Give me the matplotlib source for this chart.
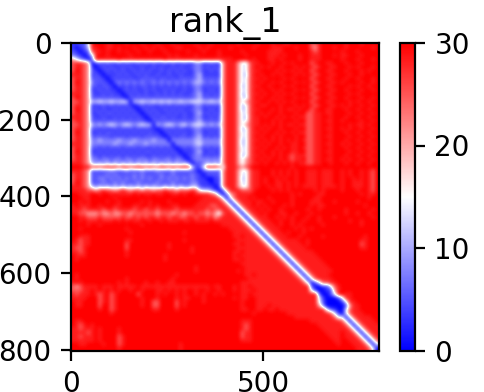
import numpy as np
import matplotlib
matplotlib.use('Agg')
import matplotlib.pyplot as plt

# PAE, one row per 10 residues, one digit per 10 residues
n_res = 802
digit_values = [0, 3.5, 5, 7.5, 11, 13.5, 21, 25, 28.3, 30]
pae_rows = [
    "1122589998 8999899989 9989998999 9989998999 9998999989 9989988999 9977899999 9899989999",
    "1012488998 8989998998 9898999889 9998989999 9899999899 9988899989 9976899989 9899999989",
    "2101278898 9989899899 8999899999 8999899989 9999899999 9888899999 9987899999 8999899999",
    "3210148998 9999989999 9999989899 9989999989 9999989999 9888989998 9988899989 8899989999",
    "6532028888 8898888888 8888988888 8888888888 8899999899 9889899998 9988899999 8999899989",
    "7887601212 1121211212 1211212112 1133112116 8886557889 9989989899 9978998899 9899989999",
    "7887610121 2112121121 1212112121 1233121216 8886557898 9899899989 8987899889 9989899989",
    "7987621012 1212112121 2112121212 1133112126 8886557889 9998989898 9978998899 9899989899",
    "8887612101 1121211212 1121121121 1134111116 8886547898 9989899989 8987899889 9989989999",
    "7887622210 1212121122 2212212122 2234222226 8886557889 8999989899 9978998899 9899899989",
    "7987632221 0232323232 2323232323 2344323236 8886557898 9989899989 8987899889 8999989989",
    "7887622122 1021212122 1212121212 1233121216 8886457889 9899989899 9978998899 9989899899",
    "7887611212 1101212112 1211212112 1133112116 8886557898 9989899989 8987899889 9899989989",
    "8887621121 2110121212 1121212121 1234121216 8886457889 8998989899 9978998899 9989899999",
    "7987622222 2221022222 2222222222 2234222226 8886547898 9989899989 8987899889 9899989989",
    "7787644544 5445404454 4545454454 4555445446 8886567889 9898989899 9978998899 9989899899",
    "7887611121 2121210121 2112121212 1133121216 8886457898 8999899989 8987899889 8989989989",
    "7987612121 1212121012 1211212121 1233112116 8886457889 9989898898 9978998899 9899899899",
    "7887611212 2121212101 2121121212 1134121216 8886557898 9899899989 9778898899 9989989989",
    "8887621121 1212121210 1212212112 1133112126 8886547889 8998989898 8778899899 9899899899",
    "7887622222 2222222221 0222222222 2234222226 8886557889 9989899989 9778898899 8999989989",
    "7787643434 5434543454 4043454345 3455434346 8886567889 8989898898 8778899899 9989889899",
    "7887622121 1212121212 1101212121 1233121216 8886457898 9899899989 9778898899 8989989989",
    "7987611212 2121212121 2110121212 1133112126 8886557889 8998989898 8778899899 9899899899",
    "7887622222 1212121212 2221012122 1234121216 8886557898 9989899989 9778898899 9989989989",
    "7887633433 3343334333 3433303333 3344333336 8886457889 8989898989 8778899899 9899899899",
    "8887633333 3433343334 3333330333 3345333336 8886457898 9899899889 9778898899 8989989989",
    "7887622121 2121212121 1212121012 1233121216 8886557889 8998989889 8778899899 9899899899",
    "7987611212 1212121212 2121212101 1134112116 8886557898 9989899889 9778898899 9989989989",
    "7887622121 2121212121 1212121210 1233121216 8886457889 8989898788 8778899899 9899899899",
    "7887633233 2332332333 2332332331 0233333336 8886567898 9899898788 9778898899 8989989989",
    "8887643434 3434343434 3434343434 3022343436 8886567889 8998989898 8778899899 9899899899",
    "9998878788 8878878887 8778878788 8512588875 8887678999 9999999899 9999999999 9999999999",
    "8887622222 3222322232 2232223222 2210222226 8886557889 9989898989 9888988899 8989989879",
    "7887622223 2322223232 2223223222 2321022226 8886557889 9989898989 9888988899 8989989879",
    "7887622332 3232323232 3223232323 2321100116 8886457889 8998989989 9888988899 8998989879",
    "7987622232 2323222322 2232223222 2331110116 8886557889 8998898989 9888988899 8998889879",
    "8887643434 3434343434 3433434343 3442111016 8886557889 9898898989 8888988889 8998889879",
    "8888776787 7678767767 7677877677 7875443102 6888777899 9989898999 9998989999 8999899879",
    "9988899899 8988889898 8988998898 9988887630 3678888999 9999999898 9999889999 9999989889",
    "9998899999 9899999999 9999999999 9999888875 0578889899 9899999899 9998899999 9999999899",
    "9989899998 9989999989 8999989999 9998888887 5057888988 9989999899 9988899989 9999899999",
    "8988899899 9889998899 8989998899 9988887788 7505788989 8999989899 9989889999 9999998999",
    "8887888878 8788887887 8878888788 8888878778 8750578898 9899899999 9899899999 9899999989",
    "8877666766 7667767777 7767776776 7787767657 8875057889 8999889989 9989999999 9899899899",
    "9988777877 7778778787 8878878877 8878878678 8887505788 8998989899 9899899989 9999999989",
    "9989888988 8989898899 8998988898 8988889888 8888750578 8899899899 8999899999 9989989999",
    "9999899899 9999999989 9999999999 9999999998 8888875057 8889899898 9999989999 9999989999",
    "9989999999 9999899999 9999999999 9999999999 9888887505 7888999989 8989999999 9999999999",
    "9999999999 9999989999 9999999998 9999999999 9988888750 5788898999 8999999999 9999999999",
    "9988899999 9999999999 9999999999 9999999999 9988988875 0578889998 9999989999 9999998999",
    "9878899999 9999889999 9999999998 9999999999 9998888887 5057888889 9899999999 9999988999",
    "8878899999 9999799999 9999989999 9999999999 9988988888 7505788888 9899999999 9999978999",
    "8778999999 9999799999 9999989999 9899999999 9998888888 8750578888 8999999999 9999988999",
    "8878999999 9999899999 9999999999 9899999999 9988988888 8875057888 8889999999 9999999999",
    "9888999999 9999899999 9999899999 9999999999 9989888888 8887505788 8888999999 9999999999",
    "9899999999 9999999999 9999899999 9999999999 9988988888 8888750578 8888899999 9999999999",
    "9999999999 9999999999 9999999999 9999999999 9999888888 8888875057 8888889999 9999999999",
    "9999999999 9999999999 9999999999 9989999999 9999988888 8888887505 7888888999 9999999999",
    "9999999999 9999999999 9999999999 9989999999 9998988888 8888888750 5788888899 9999999999",
    "9899999999 9999999999 9999999899 9999999999 9999988988 8888888875 0578888999 9999999999",
    "9899999999 9999899999 9999998999 9999999999 9999998888 8888888887 5057888899 9999999999",
    "8989999999 9989899998 9989988999 9999999999 9999888888 8888888888 7502577889 9999999999",
    "7678888988 8988888988 8888888888 8888889889 9989889888 8888888888 8820011578 9999999999",
    "7778898989 8989989989 9988989898 9989989989 9989888988 8888888888 8851001168 9999999999",
    "8788898789 7899999799 9989899898 9989899898 9999889888 8888888888 8888200258 9889999999",
    "8888999789 7899999989 9989999898 8999899999 9989889988 8888888888 8888510001 5889999999",
    "9889999789 7899999989 9779999798 9999899999 9999899988 8888888888 8888520000 1588999999",
    "9889999799 7899999989 9779999798 9999999999 9999899988 8988888888 8888630000 0268899999",
    "9999999899 7899999999 9889999899 9999999999 9999889988 9889888888 8888885210 0578899999",
    "9999999999 8999999999 9999999999 9999999999 9999999899 9999998888 8888888751 0578889999",
    "9999999999 9999999999 9999999999 9999999999 9999999999 9999999988 8888888875 5057888899",
    "9889999999 9999999999 9999999999 9999999999 9999888999 9999999999 9988888888 7505788889",
    "9878989999 9999999999 9999999999 9999999999 9999878999 9999999999 9999888888 8750578888",
    "8878889899 9989999999 9999999999 9999999999 9999878999 9999999999 9999988888 8875057888",
    "8888789899 9989999999 9999999999 9999999999 9999788999 9999999999 9999998888 9887505788",
    "8878889899 9978999999 9999999999 9999999999 9999788999 9999999999 9999999888 9888750578",
    "8888889899 9978999999 9999999999 9999999999 9999888999 9999999999 9999999988 9988875057",
    "9988999989 9978999999 9999999989 9999999999 9999999999 9999999999 9999999998 9998887505",
    "9999999999 9989999999 9999999989 9999999999 9999999999 9999999999 9999999999 9999888750",
]
x_ticks = [0, 500]
y_ticks = [0, 200, 400, 600, 800]
cbar_ticks = [0, 10, 20, 30]

pae = np.array([[digit_values[int(c)] for c in r.replace(' ', '')] for r in pae_rows])

fig = plt.figure(figsize=(4.84, 3.92), dpi=100)
ax = fig.add_axes([71 / 484, 1 - 350.5 / 392, 308 / 484, 307.5 / 392])
im = ax.imshow(pae, cmap='bwr', vmin=0, vmax=30, extent=(0, n_res, n_res, 0),
               interpolation='bicubic', aspect='auto')
ax.set_title('rank_1', fontsize=24, pad=8)
ax.set_xticks(x_ticks)
ax.set_yticks(y_ticks)
ax.tick_params(labelsize=20, width=1.6, length=7, pad=7)
for s in ax.spines.values():
    s.set_linewidth(1.6)

cax = fig.add_axes([400 / 484, 1 - 350.5 / 392, 15 / 484, 307.5 / 392])
cb = fig.colorbar(im, cax=cax, ticks=cbar_ticks)
cb.ax.tick_params(labelsize=20, width=1.6, length=7, pad=7)
cb.outline.set_linewidth(1.6)

fig.savefig('out.png', dpi=100)
